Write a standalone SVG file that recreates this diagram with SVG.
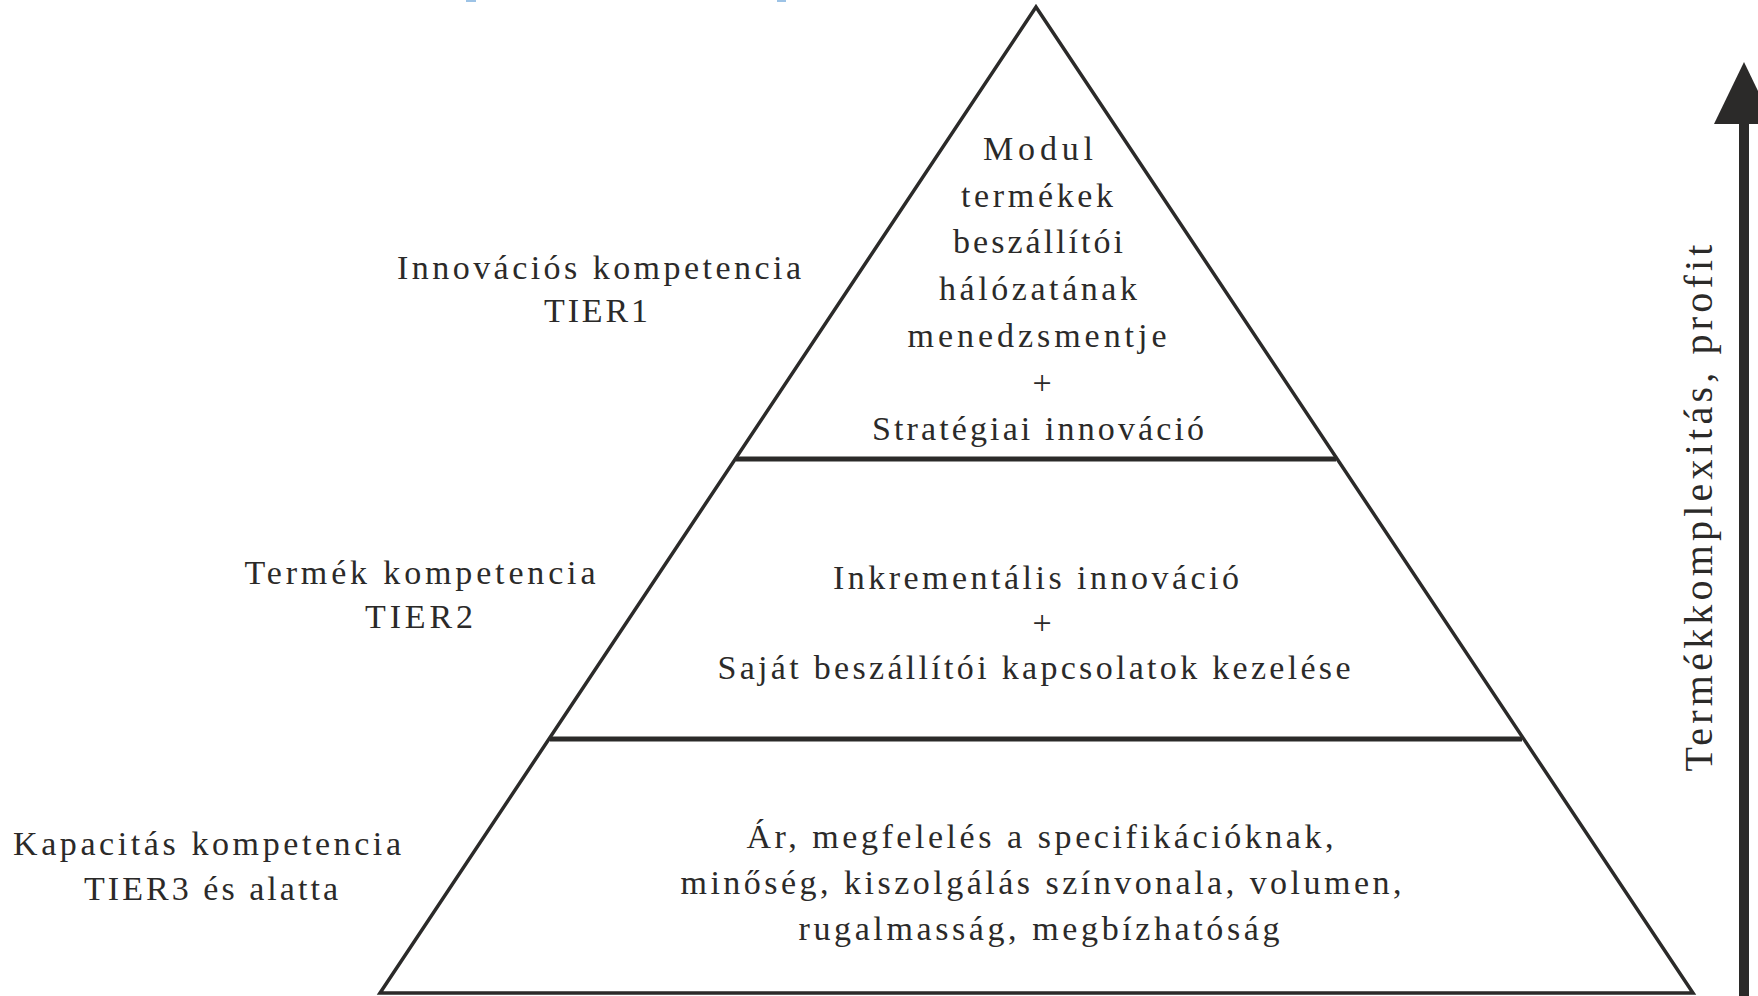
<svg xmlns="http://www.w3.org/2000/svg" width="1758" height="996" viewBox="0 0 1758 996">
<style>
.t{font-family:"Liberation Serif","Times New Roman",serif;font-size:34px;fill:#2b2a29;text-anchor:middle}
.v{font-size:40px}
.edge{fill:none;stroke:#2b2a29;stroke-width:3.5;stroke-linejoin:miter}
.div{stroke:#2b2a29;stroke-width:5}
</style>
<rect width="1758" height="996" fill="#ffffff"/>
<g id="title-fragments" fill="#9dc3e6">
<rect x="466" y="0" width="10" height="2"/>
<rect x="777" y="0" width="9" height="2"/>
</g>
<g id="pyramid">
<polygon class="edge" points="1036,7 1693,993 380,993"/>
</g>
<g id="connectors">
<line class="div" x1="736" y1="459" x2="1336" y2="459"/>
<line class="div" x1="550" y1="739" x2="1522" y2="739"/>
<rect x="1739" y="122" width="10" height="874" fill="#2b2a29"/>
<polygon points="1744,62 1714,124 1774,124" fill="#2b2a29"/>
</g>
<g id="tier1-label">
<text class="t" x="599" y="279" textLength="404" lengthAdjust="spacing">Innovációs kompetencia</text>
<text class="t" x="596" y="322" textLength="104" lengthAdjust="spacing">TIER1</text>
</g>
<g id="tier2-label">
<text class="t" x="420" y="584" textLength="351" lengthAdjust="spacing">Termék kompetencia</text>
<text class="t" x="419" y="628" textLength="108" lengthAdjust="spacing">TIER2</text>
</g>
<g id="tier3-label">
<text class="t" x="207" y="855" textLength="388" lengthAdjust="spacing">Kapacitás kompetencia</text>
<text class="t" x="211" y="900" textLength="254" lengthAdjust="spacing">TIER3 és alatta</text>
</g>
<g id="top-level">
<text class="t" x="1038" y="160" textLength="110" lengthAdjust="spacing">Modul</text>
<text class="t" x="1037" y="207" textLength="152" lengthAdjust="spacing">termékek</text>
<text class="t" x="1038" y="253" textLength="170" lengthAdjust="spacing">beszállítói</text>
<text class="t" x="1038" y="300" textLength="198" lengthAdjust="spacing">hálózatának</text>
<text class="t" x="1037" y="347" textLength="259" lengthAdjust="spacing">menedzsmentje</text>
<text class="t" x="1042" y="394">+</text>
<text class="t" x="1038" y="440" textLength="332" lengthAdjust="spacing">Stratégiai innováció</text>
</g>
<g id="middle-level">
<text class="t" x="1036" y="589" textLength="406" lengthAdjust="spacing">Inkrementális innováció</text>
<text class="t" x="1042" y="634">+</text>
<text class="t" x="1034" y="679" textLength="633" lengthAdjust="spacing">Saját beszállítói kapcsolatok kezelése</text>
</g>
<g id="bottom-level">
<text class="t" x="1040" y="848" textLength="587" lengthAdjust="spacing">Ár, megfelelés a specifikációknak,</text>
<text class="t" x="1041" y="894" textLength="721" lengthAdjust="spacing">minőség, kiszolgálás színvonala, volumen,</text>
<text class="t" x="1039" y="940" textLength="481" lengthAdjust="spacing">rugalmasság, megbízhatóság</text>
</g>
<g id="axis-label">
<text class="t v" transform="translate(1712,508) rotate(-90)" x="0" y="0" textLength="527" lengthAdjust="spacing">Termékkomplexitás, profit</text>
</g>
</svg>
